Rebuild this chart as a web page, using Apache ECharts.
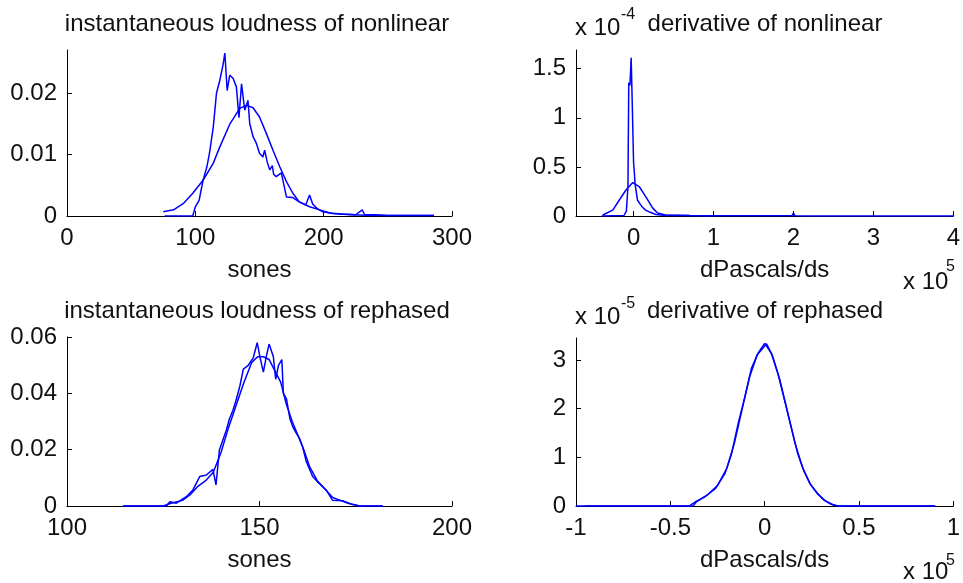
<!DOCTYPE html>
<html>
<head>
<meta charset="utf-8">
<script src="https://cdn.jsdelivr.net/npm/echarts@6/dist/echarts.min.js"></script>
<style>
  html, body { margin: 0; padding: 0; background: #fff; }
  #chart { width: 963px; height: 583px; }
</style>
</head>
<body>
<div id="chart"></div>
<script>
// --- instantaneous loudness of nonlinear (sones) ---
var nlLoudXa = [76, 98, 100, 103, 106, 109, 111, 114, 116.5, 119, 121.5, 123, 124.8, 126.8, 129.4, 132, 134, 136, 138.5, 141, 142.4, 145, 147.6, 150, 152.6, 154, 156, 158, 160, 161, 163, 167, 171, 176, 181, 186, 189, 191.5, 195, 199, 207, 215, 220, 225, 230, 232, 240, 250, 260, 270, 286];
var nlLoudYa = [0, 0, 0.0015, 0.0026, 0.0058, 0.008, 0.0102, 0.0145, 0.020, 0.022, 0.0245, 0.0265, 0.0204, 0.0229, 0.0224, 0.021, 0.016, 0.0215, 0.0172, 0.0188, 0.015, 0.0129, 0.0118, 0.0102, 0.0096, 0.0107, 0.0088, 0.0075, 0.0082, 0.0068, 0.0064, 0.007, 0.0031, 0.003, 0.0023, 0.0018, 0.0034, 0.0019, 0.0012, 0.0007, 0.0004, 0.0003, 0.0003, 0.0002, 0.001, 0.0002, 0.0002, 0.0001, 0.0001, 0.0001, 0.0001];
var nlLoudXb = [75, 83, 90.5, 98, 106, 114, 119, 127, 134.6, 140, 145, 150, 155.4, 160.5, 165.8, 171, 176, 181, 189, 197, 205, 220, 240, 260, 286];
var nlLoudYb = [0.0007, 0.001, 0.002, 0.0037, 0.0058, 0.0086, 0.0112, 0.015, 0.0175, 0.018, 0.0176, 0.0161, 0.0134, 0.0107, 0.008, 0.0056, 0.0037, 0.0023, 0.0015, 0.001, 0.0005, 0.0002, 0.0001, 0.0001, 0.0001];

// --- derivative of nonlinear (x 10^5, x 10^-4) ---
var nlDerXa = [-0.4, -0.12, -0.09, -0.07, -0.06, -0.045, -0.03, -0.015, 0, 0.02, 0.05, 0.1, 0.15, 0.2, 0.28, 0.4, 0.7, 1.0, 1.43, 1.45, 1.47, 1.7, 1.72, 1.74, 1.98, 2.0, 2.02, 2.28, 2.3, 2.32, 2.73, 2.75, 2.77, 3.53, 3.55, 3.57, 4];
var nlDerYa = [0, 0.005, 0.05, 0.3, 1.36, 1.33, 1.61, 1.1, 0.55, 0.32, 0.16, 0.1, 0.06, 0.04, 0.015, 0.006, 0.004, 0.003, 0.002, 0.02, 0.002, 0.002, 0.02, 0.002, 0.002, 0.03, 0.002, 0.001, 0.015, 0.001, 0.001, 0.015, 0.001, 0.001, 0.015, 0.001, 0];
var nlDerXb = [-0.385, -0.26, -0.18, -0.095, -0.01, 0.07, 0.15, 0.24, 0.3, 0.4, 0.7, 1.0];
var nlDerYb = [0.01, 0.06, 0.16, 0.265, 0.34, 0.3, 0.2, 0.08, 0.03, 0.01, 0.005, 0.003];

// --- instantaneous loudness of rephased (sones) ---
var rpLoudXa = [114.6, 125.8, 126.7, 128.4, 131, 132.7, 134.5, 136.2, 137.9, 138.7, 139.6, 141.4, 142.2, 143.1, 144, 144.9, 145.8, 147, 148.4, 149.4, 150.1, 151, 151.8, 152.5, 153.6, 154.2, 154.9, 155.8, 156.2, 157, 157.9, 158.7, 159.5, 160.4, 161.2, 162.1, 163.8, 165.5, 167.3, 169, 171.6, 174.2, 176, 182];
var rpLoudYa = [0, 0, 0.0015, 0.001, 0.0033, 0.0057, 0.0105, 0.011, 0.013, 0.0075, 0.02, 0.027, 0.031, 0.034, 0.038, 0.0426, 0.0486, 0.0498, 0.0527, 0.058, 0.053, 0.0475, 0.0533, 0.0575, 0.053, 0.045, 0.0498, 0.052, 0.040, 0.038, 0.031, 0.028, 0.026, 0.024, 0.021, 0.016, 0.0105, 0.008, 0.0057, 0.002, 0.0019, 0.0005, 0, 0];
var rpLoudXb = [114.6, 125, 127, 130, 132, 134, 136, 138, 140, 142, 144, 146, 148, 149.5, 151, 152.5, 154, 155.5, 157, 158.5, 160, 161.5, 163, 165, 167, 169, 171, 173, 176, 182];
var rpLoudYb = [0, 0, 0.001, 0.002, 0.004, 0.007, 0.009, 0.012, 0.019, 0.028, 0.036, 0.044, 0.051, 0.053, 0.053, 0.052, 0.048, 0.044, 0.036, 0.030, 0.025, 0.020, 0.014, 0.009, 0.006, 0.003, 0.002, 0.001, 0, 0];

// --- derivative of rephased (x 10^5, x 10^-5) ---
var rpDerXa = [-1, -0.4, -0.37, -0.316, -0.26, -0.21, -0.175, -0.14, -0.105, -0.07, -0.035, 0, 0.035, 0.07, 0.105, 0.14, 0.175, 0.21, 0.245, 0.28, 0.315, 0.35, 0.38, 0.905];
var rpDerYa = [0, 0, 0.08, 0.19, 0.36, 0.67, 1.08, 1.7, 2.24, 2.83, 3.14, 3.34, 3.14, 2.72, 2.18, 1.63, 1.08, 0.7, 0.43, 0.26, 0.12, 0.04, 0, 0];
var rpDerXb = [-0.95, -0.38, -0.36, -0.3, -0.25, -0.2, -0.16, -0.12, -0.08, -0.04, 0.01, 0.04, 0.08, 0.12, 0.16, 0.2, 0.24, 0.28, 0.32, 0.36, 0.39, 0.9];
var rpDerYb = [0, 0, 0.09, 0.24, 0.42, 0.78, 1.3, 1.98, 2.65, 3.1, 3.33, 3.1, 2.6, 1.95, 1.3, 0.8, 0.46, 0.25, 0.11, 0.03, 0, 0];

// tick values
var nlLoudXTicks = [0, 100, 200, 300];
var nlLoudYTicks = [0, 0.01, 0.02];
var nlDerXTicks = [0, 1, 2, 3, 4];
var nlDerYTicks = [0, 0.5, 1, 1.5];
var rpLoudXTicks = [100, 150, 200];
var rpLoudYTicks = [0, 0.02, 0.04, 0.06];
var rpDerXTicks = [-1, -0.5, 0, 0.5, 1];
var rpDerYTicks = [0, 1, 2, 3];

function zip(xs, ys) {
  var out = [];
  for (var i = 0; i < xs.length; i++) out.push([xs[i], ys[i]]);
  return out;
}

var FONT = '"Liberation Sans", Arial, sans-serif';
var TXT = '#111';

function xAx(idx, min, max, ticks, name) {
  return {
    type: 'value', gridIndex: idx, min: min, max: max,
    name: name, nameLocation: 'middle', nameGap: 42,
    nameTextStyle: { fontFamily: FONT, fontSize: 24, color: TXT },
    axisLine: { onZero: false, lineStyle: { color: '#000', width: 1 } },
    axisTick: { inside: true, length: 5, customValues: ticks, lineStyle: { color: '#000' } },
    axisLabel: { customValues: ticks, margin: 10, fontFamily: FONT, fontSize: 24, color: TXT,
      formatter: function (v) { return String(v); } },
    splitLine: { show: false }
  };
}
function yAx(idx, min, max, ticks, fmt) {
  return {
    type: 'value', gridIndex: idx, min: min, max: max,
    axisLine: { show: true, onZero: false, lineStyle: { color: '#000', width: 1 } },
    axisTick: { show: true, inside: true, length: 5, customValues: ticks, lineStyle: { color: '#000' } },
    axisLabel: { customValues: ticks, margin: 10, fontFamily: FONT, fontSize: 24, color: TXT, formatter: fmt },
    splitLine: { show: false }
  };
}
function ln(idx, data) {
  return {
    type: 'line', xAxisIndex: idx, yAxisIndex: idx, data: data,
    showSymbol: false, symbol: 'none', animation: false,
    lineStyle: { color: '#0000ff', width: 1.5 }
  };
}
function txt(x, y, s, size, align) {
  return { type: 'text', x: x, y: y, silent: true,
    style: { text: s, font: size + 'px ' + FONT, fill: TXT, align: align || 'center', verticalAlign: 'middle' } };
}

var fix2 = function (v) { return v === 0 ? '0' : v.toFixed(2); };
var plain = function (v) { return String(v); };

var option = {
  backgroundColor: '#fff',
  animation: false,
  grid: [
    { left: 67, top: 50, width: 385, height: 166 },
    { left: 576, top: 50, width: 382, height: 166 },
    { left: 67, top: 337, width: 385, height: 169 },
    { left: 576, top: 338, width: 382, height: 168 }
  ],
  xAxis: [
    xAx(0, 0, 300, nlLoudXTicks, 'sones'),
    xAx(1, -0.72, 4, nlDerXTicks, 'dPascals/ds'),
    xAx(2, 100, 200, rpLoudXTicks, 'sones'),
    xAx(3, -1, 1, rpDerXTicks, 'dPascals/ds')
  ],
  yAxis: [
    yAx(0, 0, 0.027, nlLoudYTicks, fix2),
    yAx(1, 0, 1.69, nlDerYTicks, plain),
    yAx(2, 0, 0.06, rpLoudYTicks, fix2),
    yAx(3, 0, 3.45, rpDerYTicks, plain)
  ],
  series: [
    ln(0, zip(nlLoudXb, nlLoudYb)),
    ln(0, zip(nlLoudXa, nlLoudYa)),
    ln(1, zip(nlDerXb, nlDerYb)),
    ln(1, zip(nlDerXa, nlDerYa)),
    ln(2, zip(rpLoudXb, rpLoudYb)),
    ln(2, zip(rpLoudXa, rpLoudYa)),
    ln(3, zip(rpDerXb, rpDerYb)),
    ln(3, zip(rpDerXa, rpDerYa))
  ],
  graphic: [
    txt(257, 24, 'instantaneous loudness of nonlinear', 24),
    txt(765, 24, 'derivative of nonlinear', 24),
    txt(575, 28, 'x 10', 24, 'left'),
    txt(621, 15, '-4', 16, 'left'),
    txt(903, 282, 'x 10', 24, 'left'),
    txt(946, 267, '5', 16, 'left'),
    txt(257, 311, 'instantaneous loudness of rephased', 24),
    txt(765, 311, 'derivative of rephased', 24),
    txt(575, 317, 'x 10', 24, 'left'),
    txt(621, 304, '-5', 16, 'left'),
    txt(903, 572, 'x 10', 24, 'left'),
    txt(946, 561, '5', 16, 'left')
  ]
};

var chart = echarts.init(document.getElementById('chart'), null, { renderer: 'canvas' });
chart.setOption(option);
</script>
</body>
</html>
